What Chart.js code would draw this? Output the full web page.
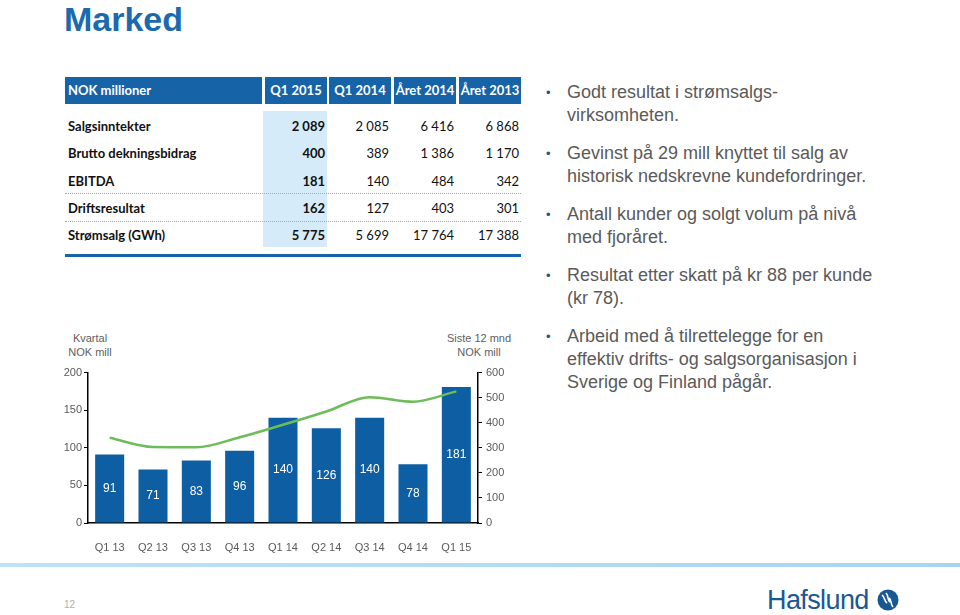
<!DOCTYPE html>
<html lang="no">
<head>
<meta charset="UTF-8">
<title>Marked</title>
<script src="https://cdn.jsdelivr.net/npm/chart.js"></script>
<style>
    body {
        margin: 0;
        width: 960px;
        height: 615px;
        position: relative;
        overflow: hidden;
        background: #ffffff;
        font-family: "Liberation Sans", Arial, sans-serif;
    }
    .title {
        position: absolute;
        left: 64px;
        top: 0;
        font-size: 34px;
        line-height: normal;
        font-weight: bold;
        color: #1b6aae;
    }
    .cell {
        position: absolute;
        font-family: Lato, "Open Sans", sans-serif;
        font-size: 13px;
        white-space: nowrap;
        color: #111;
    }
    .head {
        background: #1763a7;
        color: #fff;
        font-weight: bold;
        height: 27px;
        line-height: 27px;
        text-align: center;
    }
    .bullets {
        position: absolute;
        left: 546px;
        top: 81px;
        font-size: 18px;
        line-height: 23px;
        color: #5a5a5a;
    }
    .bullets p {
        margin: 0 0 15px 0;
        padding-left: 21px;
        position: relative;
        white-space: nowrap;
    }
    .bullets p::before {
        content: "\2022";
        position: absolute;
        left: 0;
        top: 0;
        font-size: 13px;
        color: #24557a;
    }
    .axis-title {
        position: absolute;
        font-size: 11px;
        line-height: 14px;
        color: #606060;
        text-align: center;
        width: 100px;
    }
    #chartBox {
        position: absolute;
        left: 40px;
        top: 362px;
        width: 480px;
        height: 195px;
    }
    .footer-line {
        position: absolute;
        left: 0;
        top: 563px;
        width: 960px;
        height: 4px;
        background: linear-gradient(to right, #bfe2f7, #a6d5f2);
    }
    .page-no {
        position: absolute;
        left: 64px;
        top: 599px;
        font-size: 10px;
        color: #b0b0b0;
    }
    .logo {
        position: absolute;
        left: 767px;
        top: 585px;
        font-family: "Liberation Sans Narrow", "Liberation Sans", sans-serif;
        font-size: 27px;
        color: #1a5893;
        letter-spacing: -0.6px;
    }
    .logo svg {
        position: absolute;
        left: 110px;
        top: 4px;
    }
</style>
</head>
<body>
<div class="title">Marked</div>

<div id="table"></div>

<div class="bullets">
    <p>Godt resultat i strømsalgs-<br>virksomheten.</p>
    <p>Gevinst på 29 mill knyttet til salg av<br>historisk nedskrevne kundefordringer.</p>
    <p>Antall kunder og solgt volum på nivå<br>med fjoråret.</p>
    <p>Resultat etter skatt på kr 88 per kunde<br>(kr 78).</p>
    <p>Arbeid med å tilrettelegge for en<br>effektiv drifts- og salgsorganisasjon i<br>Sverige og Finland pågår.</p>
</div>

<div class="axis-title" style="left:40px; top:331px;">Kvartal<br>NOK mill</div>
<div class="axis-title" style="left:429px; top:331px;">Siste 12 mnd<br>NOK mill</div>
<div id="chartBox"><canvas id="chart"></canvas></div>

<div class="footer-line"></div>
<div class="page-no">12</div>
<div class="logo">Hafslund
    <svg width="22" height="22" viewBox="0 0 22 22">
        <circle cx="11" cy="11" r="10.5" fill="#1a5893"/>
        <path d="M5 6 C8 8, 7 12, 10 14 M9 4 C12 7, 10 11, 13 13 M12 9 C15 11, 13 15, 16 18" stroke="#fff" stroke-width="1.6" fill="none"/>
    </svg>
</div>

<script>
    // table
    const tableHeader = ['NOK millioner', 'Q1 2015', 'Q1 2014', 'Året 2014', 'Året 2013'];
    const tableLabels = ['Salgsinntekter', 'Brutto dekningsbidrag', 'EBITDA', 'Driftsresultat', 'Strømsalg (GWh)'];
    const q1_2015 = ['2 089', '400', '181', '162', '5 775'];
    const q1_2014 = ['2 085', '389', '140', '127', '5 699'];
    const year2014 = ['6 416', '1 386', '484', '403', '17 764'];
    const year2013 = ['6 868', '1 170', '342', '301', '17 388'];

    // chart
    const quarters = ['Q1 13', 'Q2 13', 'Q3 13', 'Q4 13', 'Q1 14', 'Q2 14', 'Q3 14', 'Q4 14', 'Q1 15'];
    const ebitdaQuarter = [91, 71, 83, 96, 140, 126, 140, 78, 181];
    const ebitdaLast12 = [340, 303, 302, 342, 392, 445, 502, 484, 525];
    const leftTicks = [0, 50, 100, 150, 200];
    const rightTicks = [0, 100, 200, 300, 400, 500, 600];

    const colLeft = [65, 265, 329, 394, 459];
    const colRight = [262, 327, 391, 456, 521];
    const rowY = [126, 153, 181, 208, 235];
    const table = document.getElementById('table');

    function addDiv(css, text, cls) {
        const d = document.createElement('div');
        d.className = cls || '';
        d.style.cssText = 'position:absolute;' + css;
        if (text !== undefined) d.textContent = text;
        table.appendChild(d);
        return d;
    }

    // highlighted column behind Q1 2015
    addDiv('left:263px;top:111px;width:64px;height:136px;background:#d5ebf9;');

    tableHeader.forEach((h, i) => {
        const w = colRight[i] - colLeft[i];
        const d = addDiv('left:' + colLeft[i] + 'px;top:77px;width:' + w + 'px;', h, 'cell head');
        if (i === 0) { d.style.textAlign = 'left'; d.style.paddingLeft = '3px'; d.style.width = (w - 3) + 'px'; }
    });

    const valueCols = [q1_2015, q1_2014, year2014, year2013];
    tableLabels.forEach((label, r) => {
        addDiv('left:68px;top:' + (rowY[r] - 9) + 'px;line-height:18px;font-weight:bold;', label, 'cell');
        valueCols.forEach((col, c) => {
            const right = 960 - colRight[c + 1] + 2;
            addDiv('right:' + right + 'px;top:' + (rowY[r] - 9) + 'px;line-height:18px;' +
                (c === 0 ? 'font-weight:bold;' : ''), col[r], 'cell');
        });
    });

    // dotted separators and bottom rule
    addDiv('left:65px;top:193px;width:456px;height:0;border-top:1px dotted #a8a8a8;');
    addDiv('left:65px;top:221px;width:456px;height:0;border-top:1px dotted #a8a8a8;');
    addDiv('left:65px;top:254px;width:456px;height:3px;background:#1763a7;');

    // value labels inside bars
    const barLabels = {
        id: 'barLabels',
        afterDatasetsDraw(chart) {
            const ctx = chart.ctx;
            const meta = chart.getDatasetMeta(1);
            ctx.save();
            ctx.fillStyle = '#ffffff';
            ctx.font = '12px "Liberation Sans", Arial, sans-serif';
            ctx.textAlign = 'center';
            ctx.textBaseline = 'middle';
            meta.data.forEach((bar, i) => {
                ctx.fillText(String(ebitdaQuarter[i]), bar.x, (bar.y + bar.base) / 2);
            });
            ctx.restore();
        }
    };

    const tickFont = { family: '"Liberation Sans", Arial, sans-serif', size: 11 };

    new Chart(document.getElementById('chart').getContext('2d'), {
        data: {
            labels: quarters,
            datasets: [
                {
                    type: 'line',
                    label: 'Siste 12 mnd',
                    data: ebitdaLast12,
                    yAxisID: 'y2',
                    borderColor: '#6cbd5a',
                    borderWidth: 2.5,
                    pointRadius: 0,
                    tension: 0.4,
                    cubicInterpolationMode: 'monotone',
                    order: 0
                },
                {
                    type: 'bar',
                    label: 'Kvartal',
                    data: ebitdaQuarter,
                    yAxisID: 'y',
                    backgroundColor: '#0d5ea3',
                    categoryPercentage: 1,
                    barPercentage: 0.67,
                    order: 1
                }
            ]
        },
        options: {
            responsive: true,
            maintainAspectRatio: false,
            animation: false,
            layout: { padding: { top: 10, left: 0, right: 0, bottom: 0 } },
            plugins: {
                legend: { display: false },
                tooltip: { enabled: false }
            },
            scales: {
                x: {
                    grid: { display: false },
                    border: { display: true, color: '#000', width: 1.5 },
                    ticks: { font: tickFont, color: '#5a5a5a', padding: 10, maxRotation: 0 },
                    afterFit(scale) { scale.height = 34; }
                },
                y: {
                    position: 'left',
                    min: 0,
                    max: 200,
                    afterBuildTicks(scale) { scale.ticks = leftTicks.map(v => ({ value: v })); },
                    grid: { drawOnChartArea: false, drawTicks: true, tickLength: 4, color: '#000' },
                    border: { display: true, color: '#000', width: 1.5 },
                    ticks: { font: tickFont, color: '#5a5a5a', padding: 2 },
                    afterFit(scale) { scale.width = 48; }
                },
                y2: {
                    position: 'right',
                    min: 0,
                    max: 600,
                    afterBuildTicks(scale) { scale.ticks = rightTicks.map(v => ({ value: v })); },
                    grid: { drawOnChartArea: false, drawTicks: true, tickLength: 4, color: '#000' },
                    border: { display: true, color: '#000', width: 1.5 },
                    ticks: { font: tickFont, color: '#5a5a5a', padding: 4 },
                    afterFit(scale) { scale.width = 42; }
                }
            }
        },
        plugins: [barLabels]
    });
</script>
</body>
</html>
